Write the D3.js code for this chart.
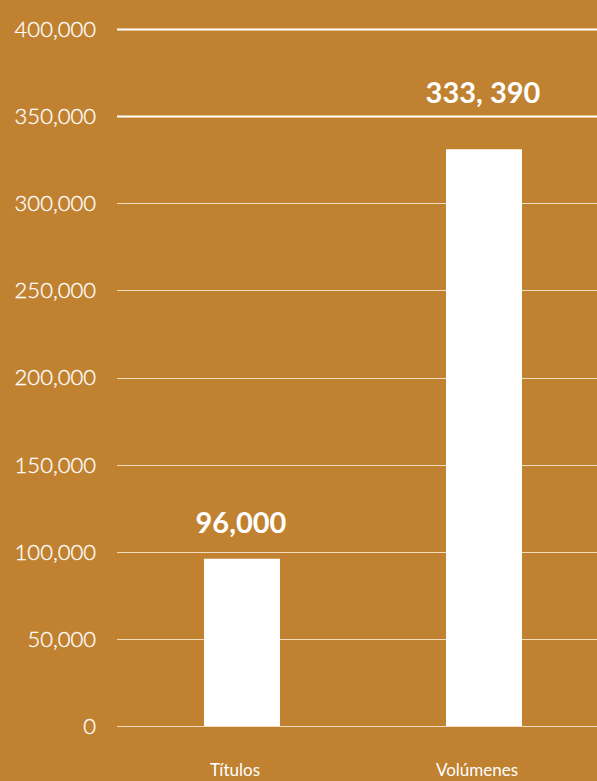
<!DOCTYPE html>
<html>
<head>
<meta charset="utf-8">
<script src="https://cdn.jsdelivr.net/npm/d3@7"></script>
<style>
  html, body { margin: 0; padding: 0; background: #c08231; }
  svg { display: block; }
</style>
</head>
<body>
<svg id="chart" width="597" height="781"></svg>
<script>
// data
const categories = ["Títulos", "Volúmenes"];
const values = [96000, 331000];
const valueLabels = ["96,000", "333, 390"];
const tickValues = [0, 50000, 100000, 150000, 200000, 250000, 300000, 350000, 400000];

const width = 597;
const height = 781;
const bg = "#c08231";

const svg = d3.select("#chart");

svg.append("rect")
  .attr("width", width)
  .attr("height", height)
  .attr("fill", bg);

const y = d3.scaleLinear().domain([0, 400000]).range([726, 29]);
const x = d3.scalePoint().domain(categories).range([121, 605]).padding(0.5);
const barW = 76;

// gridlines (top two drawn heavier / whiter)
const grid = svg.append("g");
grid.selectAll("line")
  .data(tickValues)
  .join("line")
  .attr("x1", 117)
  .attr("x2", width)
  .attr("y1", d => Math.round(y(d)) + 0.5)
  .attr("y2", d => Math.round(y(d)) + 0.5)
  .attr("stroke", d => d >= 350000 ? "#ffffff" : "#f2dcc0")
  .attr("stroke-width", d => d >= 350000 ? 2 : 1);

// y tick labels
svg.append("g")
  .selectAll("text")
  .data(tickValues)
  .join("text")
  .attr("x", 96)
  .attr("y", d => y(d))
  .attr("dy", "0.36em")
  .attr("text-anchor", "end")
  .attr("fill", "#ffffff")
  .style("font", "300 22px Lato, 'Open Sans', sans-serif")
  .style("stroke", "#ffffff")
  .style("stroke-width", 0.3)
  .text(d => d3.format(",")(d));

// bars
svg.append("g")
  .selectAll("rect")
  .data(values)
  .join("rect")
  .attr("x", (d, i) => x(categories[i]) - barW / 2)
  .attr("y", d => y(d))
  .attr("width", barW)
  .attr("height", d => y(0) - y(d))
  .attr("fill", "#ffffff");

// value labels above the bars; pushed above the heavy 350k line if they would touch it
const line350 = y(350000);
function labelY(d) {
  const ly = y(d) - 26;
  return ly - 28 < line350 ? line350 - 13 : ly;
}

svg.append("g")
  .selectAll("text")
  .data(values)
  .join("text")
  .attr("x", (d, i) => x(categories[i]) - 1)
  .attr("y", labelY)
  .attr("text-anchor", "middle")
  .attr("fill", "#ffffff")
  .style("font", "bold 29px Lato, 'Open Sans', sans-serif")
  .text((d, i) => valueLabels[i]);

// category labels
svg.append("g")
  .selectAll("text")
  .data(categories)
  .join("text")
  .attr("x", d => x(d) - 7)
  .attr("y", 776)
  .attr("text-anchor", "middle")
  .attr("fill", "#ffffff")
  .style("font", "17px Lato, 'Open Sans', sans-serif")
  .text(d => d);
</script>
</body>
</html>
